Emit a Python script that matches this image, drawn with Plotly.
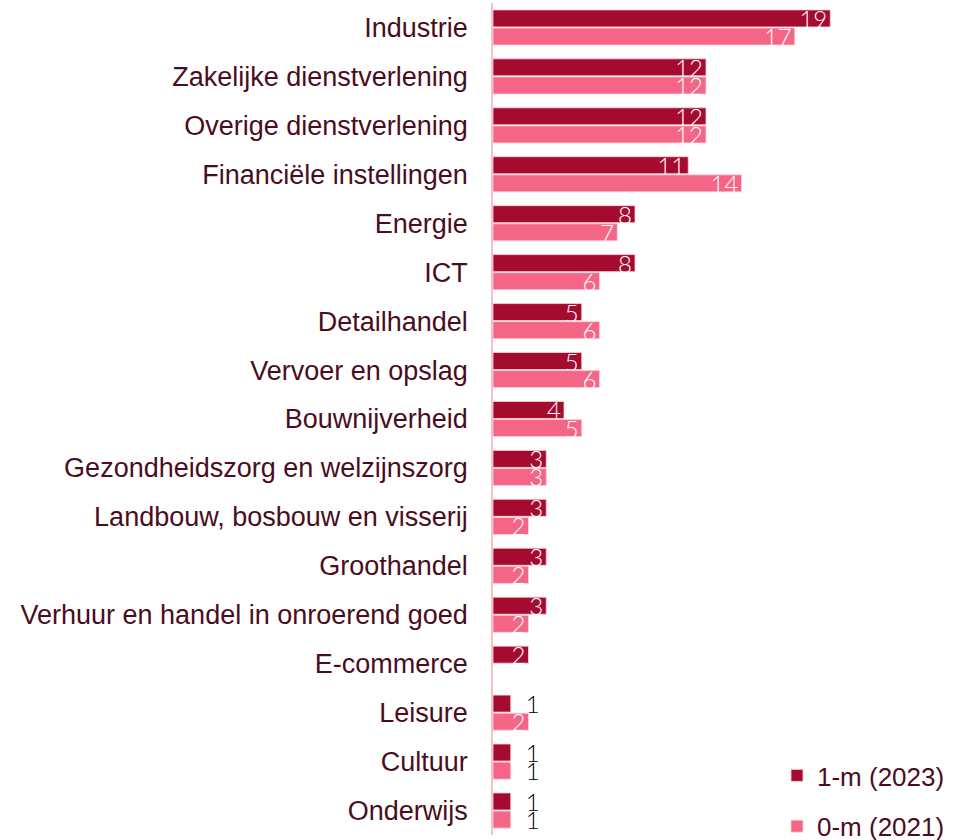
import plotly.graph_objects as go

categories = ["Industrie", "Zakelijke dienstverlening", "Overige dienstverlening",
              "Financiële instellingen", "Energie", "ICT", "Detailhandel",
              "Vervoer en opslag", "Bouwnijverheid", "Gezondheidszorg en welzijnszorg",
              "Landbouw, bosbouw en visserij", "Groothandel",
              "Verhuur en handel in onroerend goed", "E-commerce", "Leisure",
              "Cultuur", "Onderwijs"]
vals_2023 = [19, 12, 12, 11, 8, 8, 5, 5, 4, 3, 3, 3, 3, 2, 1, 1, 1]
vals_2021 = [17, 12, 12, 14, 7, 6, 6, 6, 5, 3, 2, 2, 2, None, 2, 1, 1]
series_names = ["1-m (2023)", "0-m (2021)"]
colors = ["#A50B2F", "#F56586"]

fig = go.Figure()
for name, vals, col in zip(series_names, [vals_2023, vals_2021], colors):
    outside = [(v is not None and v <= 1) for v in vals]
    texts = ["" if v is None else (("\u2002" + str(v)) if o else str(v)) for v, o in zip(vals, outside)]
    pos = ["outside" if o else "inside" for o in outside]
    tcol = ["black" if o else "white" for o in outside]
    fig.add_trace(go.Bar(
        y=categories, x=vals, name=name, orientation="h",
        marker=dict(color=col, line=dict(color="#FBD3DC", width=0.8)),
        text=texts, textposition=pos, insidetextanchor="end", textangle=0,
        textfont=dict(color=tcol, size=24, family="Lato", weight=300),
        constraintext="none", cliponaxis=False,
        legendgroup=name,
    ))

fig.update_layout(
    width=972, height=840,
    margin=dict(l=493, r=124, t=3, b=5, autoexpand=False),
    paper_bgcolor="white", plot_bgcolor="white",
    barmode="group", bargap=0.26, bargroupgap=0.06,
    font=dict(family="Liberation Sans, Arial", size=27, color="#4A0D1E"),
    showlegend=True,
    legend=dict(x=0.80, y=-0.018, xanchor="left", yanchor="bottom",
                traceorder="grouped", tracegroupgap=14,
                font=dict(size=26, color="#4A0D1E"), bgcolor="rgba(0,0,0,0)"),
)
fig.update_xaxes(range=[0, 20], visible=False, showgrid=False, zeroline=False)
fig.update_yaxes(autorange="reversed", showgrid=False, zeroline=False, automargin=False,
                 showline=True, linecolor="#F8BFCB", linewidth=1.5,
                 ticks="", ticklabelstandoff=18, tickfont=dict(size=27, color="#4A0D1E"))

fig.write_html("out.html", config={"displayModeBar": False},
               post_script="document.body.style.margin='0px';")
